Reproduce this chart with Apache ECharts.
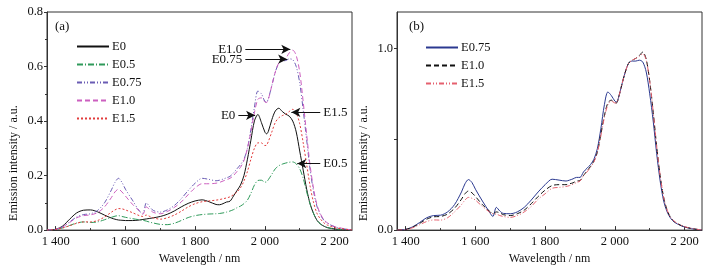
<!DOCTYPE html>
<html>
<head>
<meta charset="utf-8">
<script src="https://cdn.jsdelivr.net/npm/echarts@6/dist/echarts.min.js"></script>
<style>
  html, body { margin: 0; padding: 0; background: #fff; }
  #main { width: 715px; height: 270px; }
</style>
</head>
<body>
<div id="main"></div>
<script>
// wavelength grid (nm), shared by every curve
var wl = [1375, 1400, 1420, 1440, 1460, 1480, 1500, 1520, 1540, 1560, 1570, 1580, 1590, 1600, 1620, 1640, 1650, 1660, 1670, 1680,
  1700, 1720, 1740, 1760, 1780, 1800, 1820, 1840, 1860, 1870, 1880, 1890, 1900, 1910, 1920, 1930, 1940, 1950, 1960, 1970,
  1980, 1990, 2000, 2005, 2010, 2020, 2030, 2040, 2050, 2060, 2070, 2080, 2090, 2100, 2110, 2120, 2130, 2140, 2150, 2160,
  2170, 2180, 2200, 2220, 2250];

// panel (a)
var aE0 = [0, 0.003, 0.015, 0.04, 0.063, 0.073, 0.074, 0.067, 0.055, 0.044, 0.04, 0.037, 0.036, 0.035, 0.035, 0.037, 0.039, 0.041, 0.043, 0.045,
  0.05, 0.058, 0.07, 0.085, 0.098, 0.107, 0.111, 0.104, 0.094, 0.093, 0.097, 0.103, 0.106, 0.125, 0.145, 0.165, 0.2, 0.26, 0.33, 0.4,
  0.424, 0.395, 0.36, 0.353, 0.362, 0.405, 0.437, 0.447, 0.435, 0.425, 0.418, 0.4, 0.36, 0.29, 0.22, 0.15, 0.095, 0.06, 0.035, 0.022,
  0.014, 0.009, 0.004, 0.002, 0];
var aE05 = [0, 0.002, 0.008, 0.017, 0.026, 0.03, 0.028, 0.03, 0.038, 0.047, 0.051, 0.053, 0.05, 0.047, 0.042, 0.038, 0.036, 0.033, 0.029, 0.026,
  0.021, 0.02, 0.025, 0.035, 0.046, 0.053, 0.057, 0.059, 0.06, 0.061, 0.063, 0.066, 0.07, 0.075, 0.082, 0.088, 0.097, 0.11, 0.135, 0.165,
  0.182, 0.183, 0.176, 0.177, 0.185, 0.205, 0.225, 0.236, 0.242, 0.246, 0.249, 0.25, 0.243, 0.225, 0.19, 0.14, 0.095, 0.06, 0.035, 0.022,
  0.014, 0.009, 0.004, 0.002, 0];
var aE075 = [0, 0.003, 0.012, 0.03, 0.048, 0.057, 0.06, 0.072, 0.1, 0.148, 0.175, 0.19, 0.175, 0.15, 0.11, 0.07, 0.062, 0.1, 0.085, 0.072,
  0.066, 0.074, 0.09, 0.115, 0.145, 0.172, 0.19, 0.186, 0.181, 0.183, 0.187, 0.192, 0.197, 0.21, 0.225, 0.24, 0.26, 0.3, 0.37, 0.45,
  0.51, 0.5, 0.472, 0.47, 0.482, 0.53, 0.58, 0.612, 0.62, 0.622, 0.628, 0.625, 0.6, 0.54, 0.44, 0.33, 0.22, 0.14, 0.085, 0.055,
  0.035, 0.025, 0.012, 0.006, 0];
var aE10 = [0, 0.003, 0.012, 0.028, 0.045, 0.053, 0.056, 0.064, 0.085, 0.12, 0.14, 0.15, 0.14, 0.125, 0.095, 0.07, 0.058, 0.085, 0.075, 0.065,
  0.06, 0.068, 0.083, 0.103, 0.13, 0.155, 0.17, 0.17, 0.172, 0.175, 0.18, 0.185, 0.19, 0.2, 0.215, 0.23, 0.255, 0.3, 0.36, 0.43,
  0.48, 0.485, 0.47, 0.468, 0.48, 0.53, 0.58, 0.613, 0.622, 0.63, 0.65, 0.66, 0.64, 0.58, 0.47, 0.35, 0.235, 0.15, 0.09, 0.058,
  0.037, 0.026, 0.013, 0.007, 0];
var aE15 = [0, 0.002, 0.008, 0.016, 0.025, 0.03, 0.03, 0.035, 0.048, 0.066, 0.074, 0.079, 0.078, 0.074, 0.064, 0.053, 0.05, 0.055, 0.05, 0.045,
  0.04, 0.045, 0.055, 0.069, 0.085, 0.097, 0.104, 0.107, 0.11, 0.112, 0.115, 0.118, 0.122, 0.13, 0.14, 0.155, 0.18, 0.215, 0.26, 0.3,
  0.32, 0.32, 0.31, 0.312, 0.325, 0.36, 0.395, 0.412, 0.42, 0.425, 0.435, 0.443, 0.43, 0.39, 0.32, 0.24, 0.16, 0.1, 0.06, 0.04,
  0.026, 0.018, 0.009, 0.005, 0];

// panel (b), normalised
var bE075 = [0, 0.004, 0.018, 0.042, 0.068, 0.08, 0.082, 0.1, 0.14, 0.21, 0.255, 0.278, 0.262, 0.225, 0.16, 0.1, 0.075, 0.125, 0.105, 0.092,
  0.09, 0.1, 0.125, 0.165, 0.21, 0.25, 0.28, 0.275, 0.27, 0.275, 0.282, 0.29, 0.29, 0.32, 0.34, 0.36, 0.39, 0.45, 0.56, 0.69,
  0.76, 0.74, 0.71, 0.705, 0.725, 0.8, 0.87, 0.92, 0.93, 0.93, 0.935, 0.925, 0.87, 0.75, 0.6, 0.42, 0.27, 0.16, 0.1, 0.065,
  0.045, 0.033, 0.017, 0.008, 0];
var bE10 = [0, 0.004, 0.016, 0.037, 0.06, 0.073, 0.075, 0.088, 0.12, 0.17, 0.2, 0.215, 0.205, 0.185, 0.14, 0.105, 0.09, 0.1, 0.095, 0.085,
  0.08, 0.09, 0.11, 0.145, 0.185, 0.22, 0.245, 0.25, 0.25, 0.255, 0.26, 0.27, 0.272, 0.3, 0.325, 0.35, 0.38, 0.43, 0.53, 0.63,
  0.7, 0.715, 0.7, 0.7, 0.725, 0.8, 0.87, 0.92, 0.935, 0.945, 0.96, 0.98, 0.94, 0.82, 0.65, 0.46, 0.3, 0.18, 0.11, 0.07,
  0.048, 0.035, 0.018, 0.009, 0];
var bE15 = [0, 0.003, 0.013, 0.03, 0.047, 0.056, 0.055, 0.068, 0.1, 0.14, 0.165, 0.18, 0.175, 0.165, 0.13, 0.1, 0.09, 0.088, 0.08, 0.075,
  0.07, 0.08, 0.1, 0.13, 0.17, 0.2, 0.23, 0.235, 0.24, 0.245, 0.252, 0.262, 0.27, 0.3, 0.32, 0.345, 0.375, 0.43, 0.52, 0.62,
  0.69, 0.71, 0.7, 0.7, 0.725, 0.8, 0.87, 0.92, 0.935, 0.945, 0.955, 0.97, 0.935, 0.82, 0.65, 0.46, 0.3, 0.18, 0.11, 0.07,
  0.05, 0.036, 0.019, 0.01, 0];

var xMajor = [1400, 1600, 1800, 2000, 2200];
var xMinor = [1500, 1700, 1900, 2100];

// arrows in panel (a): label, y, from, to
var arrowLabels = ['E1.0', 'E0.75', 'E0', 'E1.5', 'E0.5'];
var arrowY = [0.663, 0.627, 0.421, 0.432, 0.244];
var arrowFrom = [1944, 1944, 1924, 2159, 2159];
var arrowTo = [2073, 2064, 1972, 2076, 2093];

var FONT = 'Liberation Serif';
var AX = '#333';

function pairs(ys) {
  return wl.map(function (x, i) { return [x, ys[i]]; });
}
function spaced(v) {
  var s = String(v);
  return s.length > 3 ? s.slice(0, s.length - 3) + ' ' + s.slice(s.length - 3) : s;
}

function xAxes(gi) {
  return [{
    type: 'value', gridIndex: gi, min: 1375, max: 2250,
    name: 'Wavelength / nm', nameLocation: 'middle', nameGap: 20,
    nameTextStyle: { fontFamily: FONT, fontSize: 12, color: '#111' },
    axisLine: { lineStyle: { color: AX } },
    axisTick: { inside: true, length: 4, customValues: xMajor, lineStyle: { color: AX } },
    axisLabel: { customValues: xMajor, formatter: spaced, fontFamily: FONT, fontSize: 12.5, color: '#111', margin: 5 },
    splitLine: { show: false }
  }, {
    type: 'value', gridIndex: gi, min: 1375, max: 2250, position: 'bottom',
    axisLine: { show: false },
    axisTick: { inside: true, length: 2, customValues: xMinor, lineStyle: { color: AX } },
    axisLabel: { show: false },
    splitLine: { show: false }
  }];
}

function yName() {
  return {
    name: 'Emission intensity / a.u.', nameLocation: 'middle', nameGap: 27,
    nameTextStyle: { fontFamily: FONT, fontSize: 12, color: '#111', padding: [0, 84, 0, 0] }
  };
}

var arrowData = arrowLabels.map(function (t, i) {
  return [
    { coord: [arrowFrom[i], arrowY[i]], label: { formatter: t } },
    { coord: [arrowTo[i], arrowY[i]] }
  ];
});

function lineSeries(name, ys, color, type, xi, yi) {
  return {
    name: name, type: 'line', data: pairs(ys),
    xAxisIndex: xi, yAxisIndex: yi,
    showSymbol: false, symbol: 'none', smooth: 0.3,
    lineStyle: { color: color, width: 1, type: type },
    itemStyle: { color: color },
    emphasis: { disabled: true }
  };
}

var legendBase = {
  orient: 'vertical', itemWidth: 32, itemHeight: 10, itemGap: 5,
  itemStyle: { opacity: 0 },
  textStyle: { fontFamily: FONT, fontSize: 12.5, color: '#111', padding: [0, 0, 0, -2] }
};

var myChart = echarts.init(document.getElementById('main'));
var option = {
  animation: false,
  backgroundColor: '#fff',
  textStyle: { fontFamily: FONT },
  grid: [
    { left: 47, right: 363, top: 12, bottom: 32, show: true, borderColor: AX, borderWidth: 1 },
    { left: 397, right: 13, top: 12, bottom: 32, show: true, borderColor: AX, borderWidth: 1 }
  ],
  xAxis: xAxes(0).concat(xAxes(1)),
  yAxis: [Object.assign({
    type: 'value', gridIndex: 0, min: 0, max: 0.8, interval: 0.2,
    axisLine: { show: true, lineStyle: { color: AX } },
    axisTick: { show: true, length: 3, lineStyle: { color: AX } },
    minorTick: { show: true, splitNumber: 2, length: 2, lineStyle: { color: AX } },
    axisLabel: { formatter: function (v) { return v.toFixed(1); }, fontFamily: FONT, fontSize: 12.5, color: '#111', margin: 4 },
    splitLine: { show: false }
  }, yName()), Object.assign({
    type: 'value', gridIndex: 1, min: 0, max: 1.2,
    axisLine: { show: true, lineStyle: { color: AX } },
    axisTick: { show: true, length: 3, customValues: [0, 0.5, 1], lineStyle: { color: AX } },
    axisLabel: { customValues: [0, 1], formatter: function (v) { return v.toFixed(1); }, fontFamily: FONT, fontSize: 12.5, color: '#111', margin: 4 },
    splitLine: { show: false }
  }, yName())],
  legend: [
    Object.assign({ left: 71, top: 35, data: ['E0', 'E0.5', 'E0.75', 'E1.0', 'E1.5'] }, legendBase),
    Object.assign({ left: 420, top: 36, data: ['b:E0.75', 'b:E1.0', 'b:E1.5'],
      formatter: function (n) { return n.replace('b:', ''); } }, legendBase)
  ],
  graphic: [
    { type: 'text', left: 55, top: 20, style: { text: '(a)', font: '13px "Liberation Serif"', fill: '#111' } },
    { type: 'text', left: 409, top: 20, style: { text: '(b)', font: '13px "Liberation Serif"', fill: '#111' } }
  ],
  series: [
    lineSeries('E0', aE0, '#111111', 'solid', 0, 0),
    lineSeries('E0.5', aE05, '#2f9a5a', [6, 2, 1, 2], 0, 0),
    lineSeries('E0.75', aE075, '#6a5cb4', [5, 2, 1, 2, 1, 2], 0, 0),
    lineSeries('E1.0', aE10, '#cc5fbf', [5, 3], 0, 0),
    lineSeries('E1.5', aE15, '#e23c3c', [2, 2], 0, 0),
    lineSeries('b:E0.75', bE075, '#2b3990', 'solid', 2, 1),
    lineSeries('b:E1.0', bE10, '#111111', [5, 3], 2, 1),
    lineSeries('b:E1.5', bE15, '#e5606e', [5, 2, 1, 2, 1, 2], 2, 1),
    {
      name: 'arrows', type: 'line', xAxisIndex: 0, yAxisIndex: 0, data: [],
      markLine: {
        silent: true, animation: false,
        symbol: ['none', 'arrow'], symbolSize: [7, 9],
        lineStyle: { color: '#111', width: 1, type: 'solid' },
        label: { show: true, position: 'start', distance: 3, fontFamily: FONT, fontSize: 13, color: '#111' },
        data: arrowData
      }
    }
  ]
};
myChart.setOption(option);
window.onresize = myChart.resize;
</script>
</body>
</html>
